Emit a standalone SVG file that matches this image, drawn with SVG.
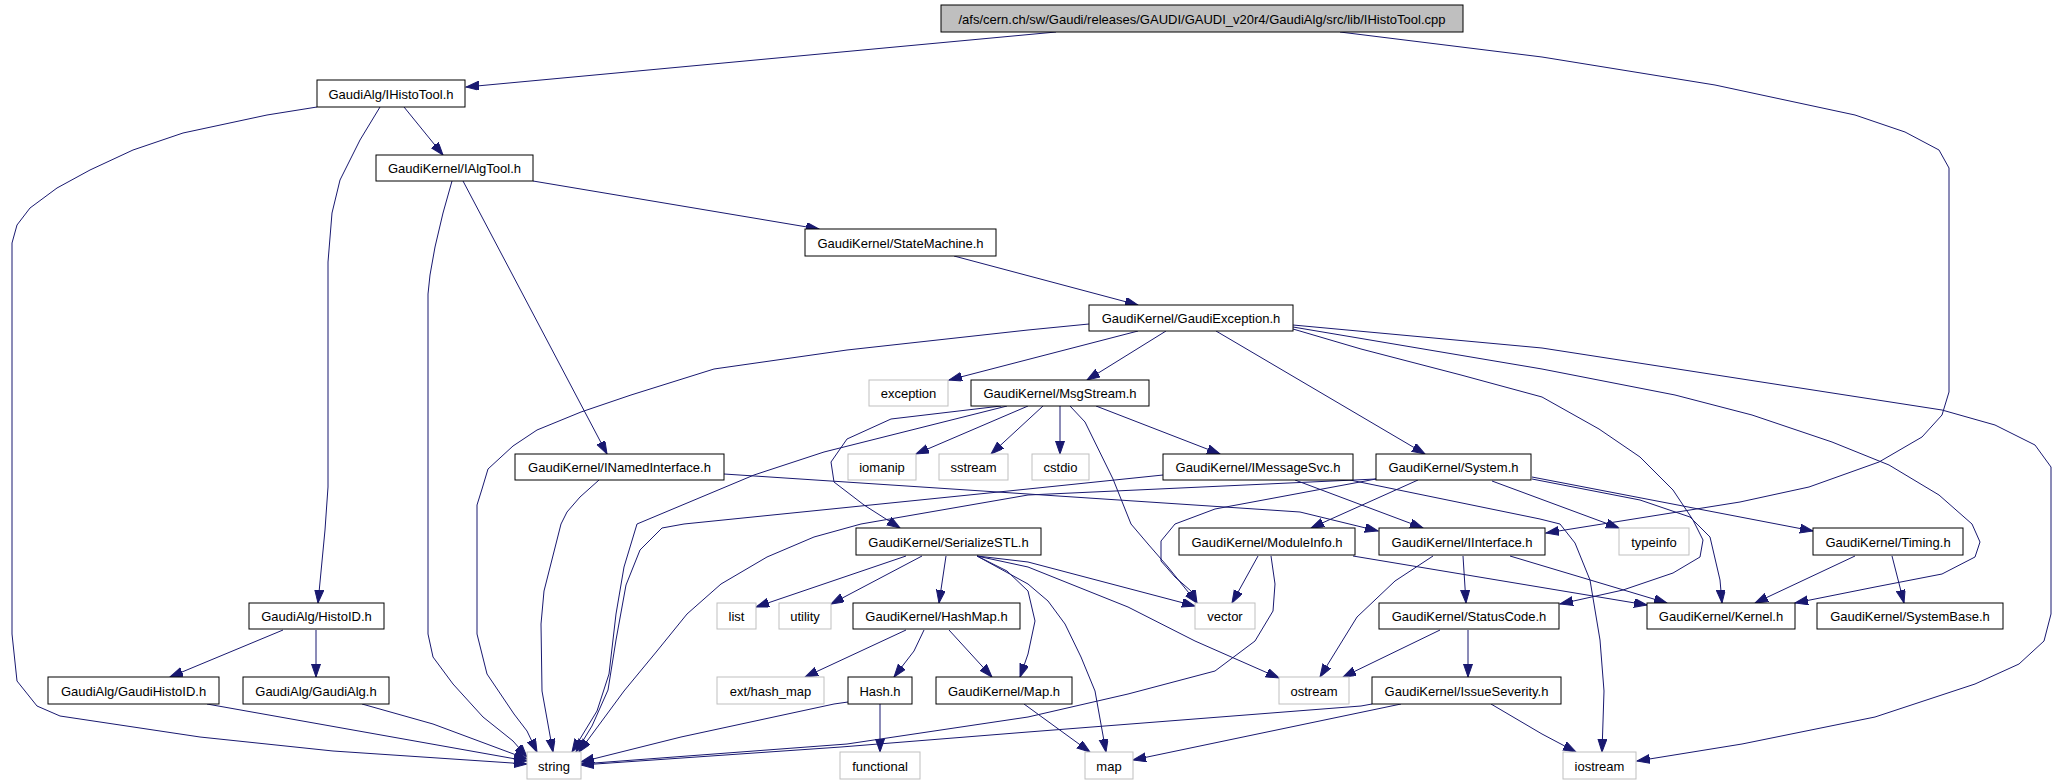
<svg xmlns="http://www.w3.org/2000/svg" width="2056" height="784" viewBox="0 0 2056 784">
<style>
rect{fill:#fff;stroke:#000;stroke-width:1}
.g rect{stroke:#bfbfbf}
.r rect{fill:#bfbfbf}
text{font-family:"Liberation Sans",Arial,sans-serif;font-size:13px;text-anchor:middle;fill:#000}
#edges path{fill:none;stroke:#191970;stroke-width:1;stroke-linejoin:round;marker-end:url(#a)}
</style>
<defs>
<marker id="a" markerWidth="14" markerHeight="10" refX="13" refY="4.5" orient="auto" markerUnits="userSpaceOnUse"><path d="M0,0 L13,4.5 L0,9 z" fill="#191970" stroke="#191970"/></marker>
</defs>
<rect x="0" y="0" width="2056" height="784" style="stroke:none"/>
<g id="edges">
<path d="M1056,32 L466,87"/>
<path d="M1340,32 L1542,57 L1715,85 L1855,115 L1905,132 L1939,150 L1949,168 L1949,392 L1942,415 L1922,437 L1879,462 L1809,487 L1740,502 L1546,533"/>
<path d="M317,107 L267,115 L183,133 L133,150 L90,170 L57,188 L30,208 L17,225 L12,243 L12,634 L17,681 L37,706 L60,716 L200,737 L333,751 L527,764"/>
<path d="M380,107 L360,140 L340,180 L332,213 L328,262 L328,487 L325,530 L318,603"/>
<path d="M404,107 L443,155"/>
<path d="M452,181 L443,213 L435,247 L430,275 L428,294 L428,634 L433,657 L453,684 L483,717 L513,741 L527,757"/>
<path d="M463,181 L607,454"/>
<path d="M533,181 L819,229"/>
<path d="M954,256 L1138,305"/>
<path d="M1089,324 L1028,330 L847,350 L714,369 L631,395 L581,412 L537,430 L513,446 L488,469 L482,489 L477,505 L477,634 L487,674 L514,714 L527,731 L537,752"/>
<path d="M1138,331 L949,380"/>
<path d="M1166,331 L1087,380"/>
<path d="M1216,331 L1425,454"/>
<path d="M1293,329 L1361,349 L1461,375 L1542,397 L1599,429 L1640,457 L1673,490 L1693,520 L1703,540 L1700,557 L1673,573 L1623,590 L1560,604"/>
<path d="M1293,327 L1542,369 L1675,395 L1752,415 L1832,442 L1889,465 L1939,495 L1972,524 L1980,542 L1975,557 L1942,574 L1875,587 L1795,603"/>
<path d="M1293,325 L1542,348 L1942,410 L1995,425 L2035,445 L2051,467 L2051,614 L2044,641 L2019,664 L1975,684 L1875,717 L1742,744 L1637,761"/>
<path d="M1028,406 L916,454"/>
<path d="M1043,406 L991,454"/>
<path d="M1060,406 L1060,454"/>
<path d="M1070,406 L1085,422 L1113,479 L1131,524 L1148,544 L1168,567 L1197,603"/>
<path d="M1096,406 L1220,454"/>
<path d="M1001,406 L891,419 L847,439 L831,462 L834,482 L864,505 L900,528"/>
<path d="M1007,406 L824,452 L754,475 L637,524 L624,567 L616,614 L609,674 L597,711 L572,752"/>
<path d="M599,480 L580,497 L567,512 L561,524 L544,591 L541,624 L542,691 L551,741 L553,752"/>
<path d="M724,474 L1028,494 L1300,512 L1378,531"/>
<path d="M1163,475 L1028,489 L684,524 L662,528 L640,550 L626,585 L616,640 L608,690 L592,726 L576,752"/>
<path d="M1295,480 L1423,528"/>
<path d="M1350,480 L1540,519 L1560,524 L1575,543 L1590,580 L1600,640 L1604,691 L1602,752"/>
<path d="M1376,479 L1028,495 L861,524 L814,537 L767,557 L721,584 L687,614 L657,651 L624,691 L579,752"/>
<path d="M1376,479 L1215,509 L1175,524 L1161,541 L1161,561 L1175,577 L1191,591 L1197,603"/>
<path d="M1418,480 L1311,528"/>
<path d="M1492,481 L1619,528"/>
<path d="M1532,477 L1813,531"/>
<path d="M1532,479 L1640,500 L1690,517 L1710,537 L1720,580 L1722,603"/>
<path d="M906,556 L756,607"/>
<path d="M922,556 L831,604"/>
<path d="M946,556 L939,603"/>
<path d="M977,556 L1028,562 L1195,606"/>
<path d="M977,556 L1028,567 L1128,607 L1195,641 L1279,678"/>
<path d="M977,556 L1028,584 L1048,601 L1065,624 L1081,657 L1095,691 L1106,752"/>
<path d="M977,556 L1007,571 L1028,591 L1035,621 L1028,654 L1020,677"/>
<path d="M906,630 L805,677"/>
<path d="M924,630 L914,651 L894,677"/>
<path d="M949,630 L992,677"/>
<path d="M880,704 L880,752"/>
<path d="M848,702 L834,704 L681,737 L581,762"/>
<path d="M1024,704 L1090,752"/>
<path d="M1258,556 L1232,603"/>
<path d="M1271,556 L1275,584 L1273,611 L1255,641 L1215,671 L1128,694 L1028,717 L847,744 L581,764"/>
<path d="M1353,556 L1647,605"/>
<path d="M1433,556 L1395,581 L1357,617 L1328,664 L1320,677"/>
<path d="M1463,556 L1466,603"/>
<path d="M1510,556 L1667,603"/>
<path d="M1440,630 L1343,677"/>
<path d="M1468,630 L1468,677"/>
<path d="M1401,704 L1133,760"/>
<path d="M1491,704 L1542,734 L1576,752"/>
<path d="M1372,704 L1361,706 L1028,732 L841,747 L581,765"/>
<path d="M1855,556 L1755,603"/>
<path d="M1892,556 L1904,603"/>
<path d="M283,630 L170,677"/>
<path d="M316,630 L316,677"/>
<path d="M207,704 L527,761"/>
<path d="M362,704 L433,724 L527,759"/>
</g>
<g id="n_root" class="r"><rect x="941" y="5" width="522" height="27"/><text x="1202" y="23.5">/afs/cern.ch/sw/Gaudi/releases/GAUDI/GAUDI_v20r4/GaudiAlg/src/lib/IHistoTool.cpp</text></g>
<g id="n_IHistoTool"><rect x="317" y="80" width="148" height="27"/><text x="391" y="98.5">GaudiAlg/IHistoTool.h</text></g>
<g id="n_IAlgTool"><rect x="376" y="155" width="157" height="26"/><text x="454.5" y="173">GaudiKernel/IAlgTool.h</text></g>
<g id="n_StateMachine"><rect x="805" y="229" width="191" height="27"/><text x="900.5" y="247.5">GaudiKernel/StateMachine.h</text></g>
<g id="n_GaudiException"><rect x="1089" y="305" width="204" height="26"/><text x="1191" y="323">GaudiKernel/GaudiException.h</text></g>
<g id="n_exception" class="g"><rect x="869" y="380" width="79" height="26"/><text x="908.5" y="398">exception</text></g>
<g id="n_MsgStream"><rect x="971" y="380" width="178" height="26"/><text x="1060" y="398">GaudiKernel/MsgStream.h</text></g>
<g id="n_INamedInterface"><rect x="515" y="454" width="209" height="26"/><text x="619.5" y="472">GaudiKernel/INamedInterface.h</text></g>
<g id="n_iomanip" class="g"><rect x="848" y="454" width="68" height="26"/><text x="882" y="472">iomanip</text></g>
<g id="n_sstream" class="g"><rect x="939" y="454" width="69" height="26"/><text x="973.5" y="472">sstream</text></g>
<g id="n_cstdio" class="g"><rect x="1032" y="454" width="57" height="26"/><text x="1060.5" y="472">cstdio</text></g>
<g id="n_IMessageSvc"><rect x="1163" y="454" width="190" height="26"/><text x="1258" y="472">GaudiKernel/IMessageSvc.h</text></g>
<g id="n_System"><rect x="1376" y="454" width="155" height="26"/><text x="1453.5" y="472">GaudiKernel/System.h</text></g>
<g id="n_SerializeSTL"><rect x="856" y="528" width="185" height="27"/><text x="948.5" y="546.5">GaudiKernel/SerializeSTL.h</text></g>
<g id="n_ModuleInfo"><rect x="1179" y="528" width="176" height="27"/><text x="1267" y="546.5">GaudiKernel/ModuleInfo.h</text></g>
<g id="n_IInterface"><rect x="1379" y="528" width="166" height="27"/><text x="1462" y="546.5">GaudiKernel/IInterface.h</text></g>
<g id="n_typeinfo" class="g"><rect x="1619" y="528" width="70" height="27"/><text x="1654" y="546.5">typeinfo</text></g>
<g id="n_Timing"><rect x="1813" y="528" width="150" height="27"/><text x="1888" y="546.5">GaudiKernel/Timing.h</text></g>
<g id="n_HistoID"><rect x="249" y="603" width="135" height="26"/><text x="316.5" y="621">GaudiAlg/HistoID.h</text></g>
<g id="n_list" class="g"><rect x="717" y="603" width="39" height="26"/><text x="736.5" y="621">list</text></g>
<g id="n_utility" class="g"><rect x="779" y="603" width="52" height="26"/><text x="805" y="621">utility</text></g>
<g id="n_HashMap"><rect x="853" y="603" width="167" height="26"/><text x="936.5" y="621">GaudiKernel/HashMap.h</text></g>
<g id="n_vector" class="g"><rect x="1195" y="603" width="60" height="26"/><text x="1225" y="621">vector</text></g>
<g id="n_StatusCode"><rect x="1379" y="603" width="180" height="26"/><text x="1469" y="621">GaudiKernel/StatusCode.h</text></g>
<g id="n_Kernel"><rect x="1647" y="603" width="148" height="26"/><text x="1721" y="621">GaudiKernel/Kernel.h</text></g>
<g id="n_SystemBase"><rect x="1817" y="603" width="186" height="26"/><text x="1910" y="621">GaudiKernel/SystemBase.h</text></g>
<g id="n_GaudiHistoID"><rect x="48" y="677" width="171" height="27"/><text x="133.5" y="695.5">GaudiAlg/GaudiHistoID.h</text></g>
<g id="n_GaudiAlg"><rect x="243" y="677" width="146" height="27"/><text x="316" y="695.5">GaudiAlg/GaudiAlg.h</text></g>
<g id="n_ext_hash_map" class="g"><rect x="717" y="677" width="107" height="27"/><text x="770.5" y="695.5">ext/hash_map</text></g>
<g id="n_Hash"><rect x="848" y="677" width="64" height="27"/><text x="880" y="695.5">Hash.h</text></g>
<g id="n_Map"><rect x="936" y="677" width="136" height="27"/><text x="1004" y="695.5">GaudiKernel/Map.h</text></g>
<g id="n_ostream" class="g"><rect x="1279" y="677" width="70" height="27"/><text x="1314" y="695.5">ostream</text></g>
<g id="n_IssueSeverity"><rect x="1372" y="677" width="189" height="27"/><text x="1466.5" y="695.5">GaudiKernel/IssueSeverity.h</text></g>
<g id="n_string" class="g"><rect x="527" y="752" width="54" height="27"/><text x="554" y="770.5">string</text></g>
<g id="n_functional" class="g"><rect x="840" y="752" width="80" height="27"/><text x="880" y="770.5">functional</text></g>
<g id="n_map" class="g"><rect x="1085" y="752" width="48" height="27"/><text x="1109" y="770.5">map</text></g>
<g id="n_iostream" class="g"><rect x="1563" y="752" width="73" height="27"/><text x="1599.5" y="770.5">iostream</text></g>
</svg>
